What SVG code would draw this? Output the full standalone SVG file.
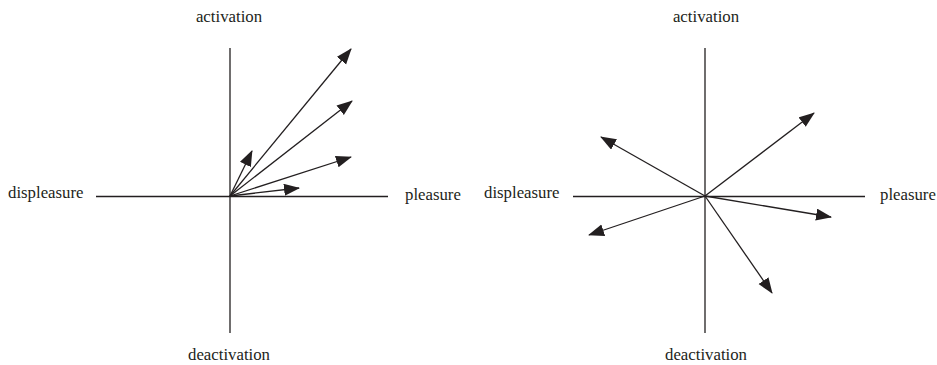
<svg xmlns="http://www.w3.org/2000/svg" width="937" height="365" viewBox="0 0 937 365">
<style>
.ax{stroke:#231f20;stroke-width:1.3;fill:none}
.ar{stroke:#231f20;stroke-width:1.3;fill:none;marker-end:url(#ah)}
text{font-family:"Liberation Serif","Times New Roman",serif;font-size:16.8px;fill:#231f20}
</style>
<defs>
<marker id="ah" markerUnits="userSpaceOnUse" markerWidth="16" markerHeight="13" refX="15" refY="6" orient="auto">
<path d="M0,0 L16,6 L0,12 Z" fill="#231f20"/>
</marker>
</defs>
<g id="left-axes">
<line class="ax" x1="230" y1="48" x2="230" y2="333"/>
<line class="ax" x1="96" y1="196.5" x2="388" y2="196.5"/>
</g>
<g id="left-labels">
<text x="229" y="22" text-anchor="middle">activation</text>
<text x="8" y="198">displeasure</text>
<text x="405" y="200">pleasure</text>
<text x="229" y="360" text-anchor="middle">deactivation</text>
</g>
<g id="connectors-left">
<line class="ar" x1="230" y1="196" x2="351" y2="49"/>
<line class="ar" x1="230" y1="196" x2="352" y2="101"/>
<line class="ar" x1="230" y1="196" x2="351" y2="157"/>
<line class="ar" x1="230" y1="196" x2="299" y2="188"/>
<line class="ar" x1="230" y1="196" x2="252" y2="151"/>
</g>
<g id="right-axes">
<line class="ax" x1="705" y1="48" x2="705" y2="333"/>
<line class="ax" x1="573" y1="196.5" x2="865" y2="196.5"/>
</g>
<g id="right-labels">
<text x="706" y="22" text-anchor="middle">activation</text>
<text x="484" y="198">displeasure</text>
<text x="880" y="200">pleasure</text>
<text x="706" y="360" text-anchor="middle">deactivation</text>
</g>
<g id="connectors-right">
<line class="ar" x1="705" y1="196" x2="814" y2="113"/>
<line class="ar" x1="705" y1="196" x2="601" y2="137"/>
<line class="ar" x1="705" y1="196" x2="831" y2="217"/>
<line class="ar" x1="705" y1="196" x2="589" y2="235"/>
<line class="ar" x1="705" y1="196" x2="772" y2="293"/>
</g>
</svg>
